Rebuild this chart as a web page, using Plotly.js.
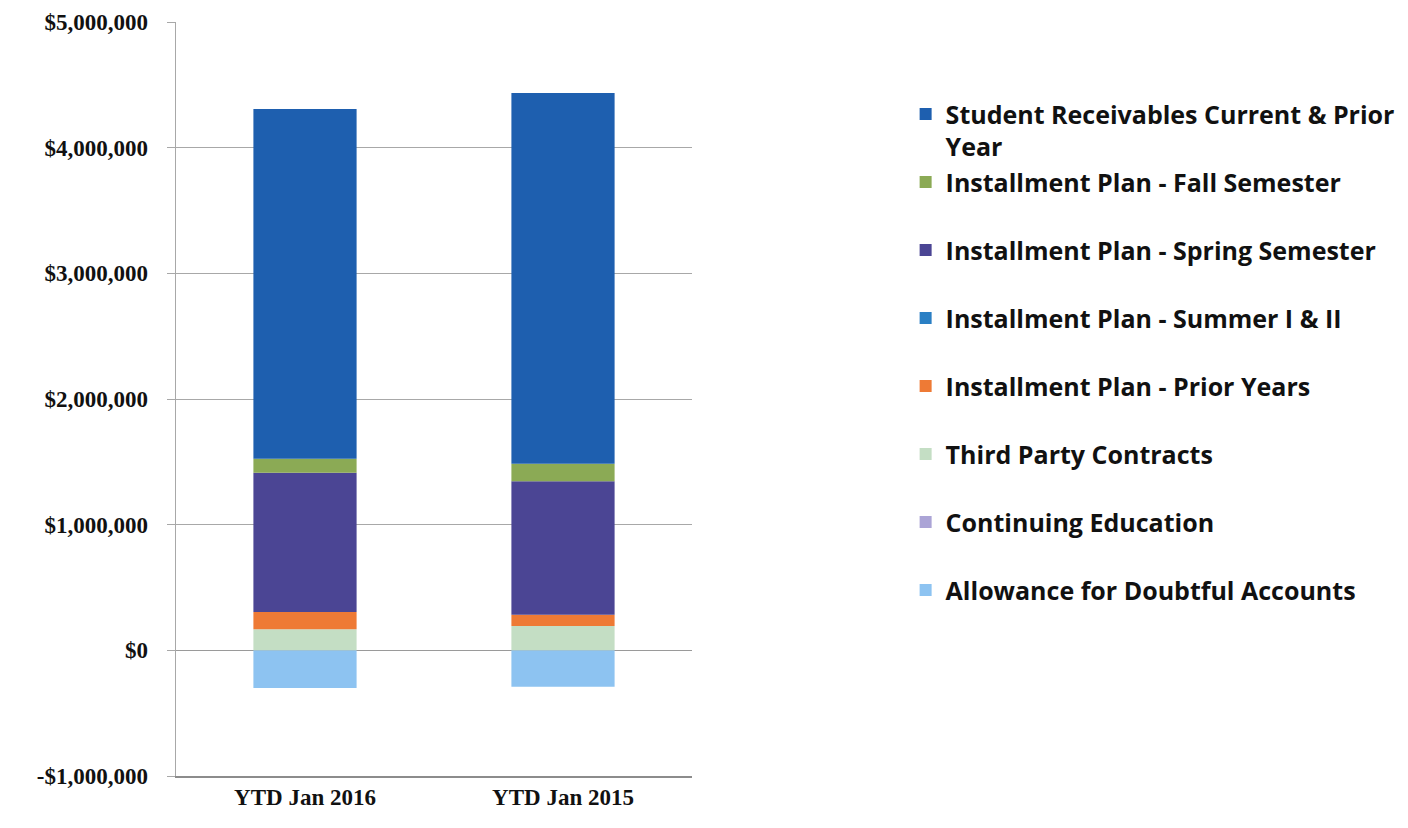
<!DOCTYPE html>
<html>
<head>
<meta charset="utf-8">
<script src="https://cdn.plot.ly/plotly-3.0.1.min.js"></script>
<style>html,body{margin:0;padding:0;background:#fff;}#chart{width:1408px;height:828px;}</style>
</head>
<body>
<div id="chart"></div>
<script>
// Categories
var categories = ["YTD Jan 2016", "YTD Jan 2015"];

// Series values (stack order, bottom to top)
var allowance      = [-300000, -289000];
var continuingEd   = [0, 0];
var thirdParty     = [167000, 193000];
var priorYears     = [138000, 91000];
var summer         = [0, 0];
var spring         = [1108000, 1062000];
var fall           = [111000, 138000];
var studentRecv    = [2784000, 2952000];

// Series names
var seriesNames = [
  "Allowance for Doubtful Accounts",
  "Continuing Education",
  "Third Party Contracts",
  "Installment Plan - Prior Years",
  "Installment Plan - Summer I &amp; II",
  "Installment Plan - Spring Semester",
  "Installment Plan - Fall Semester",
  "Student Receivables Current &amp; Prior<br>Year"
];
var seriesColors = ["#8DC3F1", "#ABA4D6", "#C4DEC4", "#EE7A35", "#2A7FC4", "#4B4594", "#8BAA55", "#1E5FAF"];
var seriesValues = [allowance, continuingEd, thirdParty, priorYears, summer, spring, fall, studentRecv];

// Y tick labels
var yTickVals = [-1000000, 0, 1000000, 2000000, 3000000, 4000000, 5000000];
var yTickText = ["-$1,000,000", "$0", "$1,000,000", "$2,000,000", "$3,000,000", "$4,000,000", "$5,000,000"];

var traces = seriesValues.map(function (vals, i) {
  var nm = seriesNames[i];
  if (nm.indexOf("<br>") < 0) nm = nm + "<br>&#160;";
  return {
    type: "bar",
    x: categories,
    y: vals,
    name: nm,
    marker: {color: seriesColors[i], line: {width: 0}},
    hoverinfo: "skip"
  };
});

var serif = "Liberation Serif, Times New Roman, serif";
var layout = {
  width: 1408,
  height: 828,
  margin: {l: 176, r: 716, t: 22, b: 52, autoexpand: false},
  paper_bgcolor: "#ffffff",
  plot_bgcolor: "#ffffff",
  barmode: "relative",
  bargap: 0.6,
  showlegend: true,
  legend: {
    x: 1.414, xanchor: "left",
    y: 0.908, yanchor: "top",
    traceorder: "reversed",
    valign: "top",
    font: {family: "Open Sans, sans-serif", size: 25, color: "#111111", weight: 700},
    bgcolor: "rgba(0,0,0,0)"
  },
  xaxis: {
    type: "category",
    showline: true,
    linecolor: "#8c8c8c",
    linewidth: 1.5,
    ticks: "",
    tickfont: {family: serif, size: 23, color: "#111111", weight: 700},
    showgrid: false,
    fixedrange: true
  },
  yaxis: {
    range: [-1000000, 5000000],
    tickvals: yTickVals,
    ticktext: yTickText,
    tickfont: {family: serif, size: 23, color: "#111111", weight: 700},
    showgrid: true,
    gridcolor: "#a8a8a8",
    gridwidth: 1,
    zeroline: true,
    zerolinecolor: "#9a9a9a",
    zerolinewidth: 1.5,
    showline: true,
    linecolor: "#a8a8a8",
    linewidth: 1.5,
    ticks: "outside",
    ticklen: 8,
    tickcolor: "#a8a8a8",
    ticklabelstandoff: 14,
    fixedrange: true
  }
};

Plotly.newPlot("chart", traces, layout, {displayModeBar: false, staticPlot: true});
</script>
</body>
</html>
